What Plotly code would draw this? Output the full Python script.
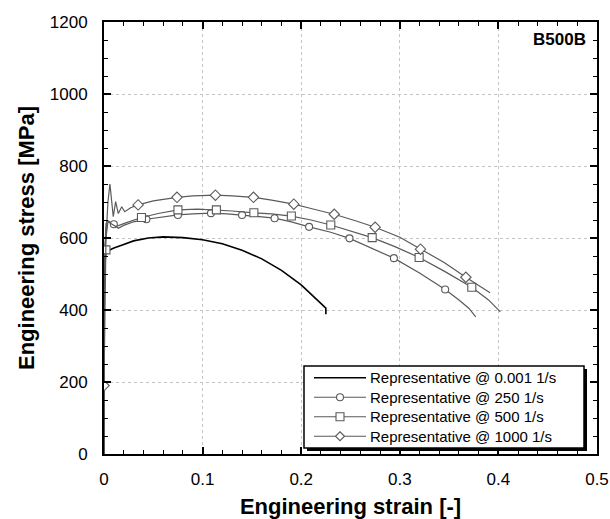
import plotly.graph_objects as go

# ---- data ----
x_001 = [0, 0, 0.002, 0.01, 0.02, 0.03, 0.045, 0.06, 0.08, 0.1, 0.12, 0.14, 0.16, 0.18, 0.2, 0.21, 0.22, 0.225, 0.225]
y_001 = [0, 500, 562, 572, 582, 592, 600, 603, 601, 595, 584, 566, 542, 510, 470, 445, 420, 405, 388]

x_250 = [0, 0, 0.002, 0.004, 0.008, 0.0145, 0.02, 0.03, 0.043, 0.06, 0.075, 0.09, 0.1085, 0.125, 0.14, 0.155, 0.173,
         0.19, 0.208, 0.23, 0.249, 0.27, 0.294, 0.32, 0.346, 0.36, 0.37, 0.377]
y_250 = [0, 500, 640, 648, 641, 627, 635, 645, 652, 658, 664, 667, 669, 667, 664, 660, 655,
         645, 631, 616, 599, 574, 544, 503, 457, 428, 405, 381]
mx_250 = [0.01, 0.043, 0.075, 0.1085, 0.14, 0.173, 0.208, 0.249, 0.294, 0.346]
my_250 = [638, 652, 664, 669, 664, 655, 631, 599, 544, 457]

x_500 = [0, 0, 0.002, 0.004, 0.007, 0.012, 0.02, 0.038, 0.055, 0.075, 0.095, 0.114, 0.13, 0.152, 0.17, 0.19,
         0.21, 0.23, 0.25, 0.272, 0.295, 0.3196, 0.345, 0.373, 0.39, 0.402]
y_500 = [0, 560, 600, 645, 640, 632, 640, 657, 668, 678, 680, 678, 675, 670, 667, 661,
         650, 636, 620, 601, 576, 546, 508, 463, 428, 395]
mx_500 = [0.002, 0.038, 0.075, 0.114, 0.152, 0.19, 0.23, 0.272, 0.3196, 0.373]
my_500 = [567, 657, 678, 678, 670, 661, 636, 601, 546, 463]

x_1000 = [0, 0, 0.002, 0.004, 0.006, 0.0094, 0.0118, 0.0145, 0.018, 0.021, 0.027, 0.0346, 0.05, 0.074, 0.09, 0.113,
          0.13, 0.1516, 0.17, 0.1925, 0.21, 0.2335, 0.255, 0.275, 0.3, 0.321, 0.345, 0.367, 0.38, 0.3915]
y_1000 = [0, 190, 600, 700, 750, 659, 701, 668, 687, 673, 684, 692, 703, 713, 717, 719,
          717, 713, 705, 694, 682, 666, 648, 630, 602, 569, 532, 491, 468, 448]
mx_1000 = [0, 0.0346, 0.074, 0.113, 0.1516, 0.1925, 0.2335, 0.275, 0.321, 0.367]
my_1000 = [190, 692, 713, 719, 713, 694, 666, 630, 569, 491]

names = ["Representative @ 0.001 1/s", "Representative @ 250 1/s",
         "Representative @ 500 1/s", "Representative @ 1000 1/s"]

x_ticks = [0, 0.1, 0.2, 0.3, 0.4, 0.5]
x_ticklabels = ["0", "0.1", "0.2", "0.3", "0.4", "0.5"]
y_ticks = [0, 200, 400, 600, 800, 1000, 1200]

FONT = "Liberation Sans, Arial, sans-serif"
GREY = "#5a5a5a"

# plot-area geometry (px) used for the hand-drawn legend
W, H = 610, 519
ML, MR, MT, MB = 104, 13, 22, 65
PW, PH = W - ML - MR, H - MT - MB


def px(X):
    return (X - ML) / PW


def py(Y):
    return (H - MB - Y) / PH


fig = go.Figure()

# 0.001 1/s
fig.add_trace(go.Scatter(x=x_001, y=y_001, mode="lines", name=names[0],
                         line=dict(color="black", width=1.6)))

series = [
    (x_250, y_250, mx_250, my_250, "circle", 7, names[1]),
    (x_500, y_500, mx_500, my_500, "square", 8, names[2]),
    (x_1000, y_1000, mx_1000, my_1000, "diamond", 8, names[3]),
]
for xs, ys, mxs, mys, sym, sz, nm in series:
    fig.add_trace(go.Scatter(x=xs, y=ys, mode="lines", name=nm,
                             line=dict(color=GREY, width=1.2), hoverinfo="skip"))
    fig.add_trace(go.Scatter(x=mxs, y=mys, mode="markers", name=nm,
                             marker=dict(symbol=sym, size=sz, color="white",
                                         line=dict(color=GREY, width=1.1))))

axis_common = dict(
    showline=True, linecolor="black", linewidth=2, mirror="ticks",
    ticks="inside", ticklen=7, tickwidth=1.5, tickcolor="black",
    showgrid=True, gridcolor="#c4c4c4", griddash="dot", gridwidth=1,
    zeroline=False, automargin=False, ticklabeloverflow="allow",
    tickfont=dict(family=FONT, size=17, color="black"),
)

fig.update_xaxes(range=[0, 0.5], tickvals=x_ticks, ticktext=x_ticklabels, ticklabelstandoff=9,
                 minor=dict(dtick=0.02, ticks="inside", ticklen=4, tickwidth=1.2,
                            tickcolor="black", showgrid=False),
                 title=dict(text="<b>Engineering strain [-]</b>",
                            font=dict(family=FONT, size=22, color="black"), standoff=10),
                 **axis_common)
fig.update_yaxes(range=[0, 1200], tickvals=y_ticks, ticklabelstandoff=11,
                 minor=dict(dtick=50, ticks="inside", ticklen=4, tickwidth=1.2,
                            tickcolor="black", showgrid=False),
                 title=dict(text="<b>Engineering stress [MPa]</b>",
                            font=dict(family=FONT, size=22, color="black"), standoff=9),
                 **axis_common)

# ---- hand-drawn legend box (with drop shadow) ----
LX0, LX1, LY0, LY1 = 304, 584, 366, 448
fig.add_shape(type="rect", xref="paper", yref="paper",
              x0=px(LX0 + 3), x1=px(LX1 + 3), y0=py(LY1 + 3), y1=py(LY0 + 3),
              fillcolor="black", line=dict(width=0), layer="above")
fig.add_shape(type="rect", xref="paper", yref="paper",
              x0=px(LX0), x1=px(LX1), y0=py(LY1), y1=py(LY0),
              fillcolor="white", line=dict(color="black", width=1.5), layer="above")

LEG_FS = 15
row_gap = LEG_FS * 1.3
row_mid = (LY0 + LY1) / 2
row_y = [row_mid + (i - 1.5) * row_gap for i in range(4)]
leg_style = [("black", 1.6, None), (GREY, 1.2, "circle"), (GREY, 1.2, "square"), (GREY, 1.2, "diamond")]
for Y, (col, lw, sym) in zip(row_y, leg_style):
    fig.add_shape(type="line", xref="paper", yref="paper",
                  x0=px(314), x1=px(366), y0=py(Y), y1=py(Y),
                  line=dict(color=col, width=lw), layer="above")
    common = dict(xref="paper", yref="paper", xsizemode="pixel", ysizemode="pixel",
                  xanchor=px(340), yanchor=py(Y), fillcolor="white",
                  line=dict(color=GREY, width=1.1), layer="above")
    if sym == "circle":
        fig.add_shape(type="circle", x0=-3.5, x1=3.5, y0=-3.5, y1=3.5, **common)
    elif sym == "square":
        fig.add_shape(type="rect", x0=-4, x1=4, y0=-4, y1=4, **common)
    elif sym == "diamond":
        fig.add_shape(type="path", path="M0,4.5 L4.5,0 L0,-4.5 L-4.5,0 Z", **common)

fig.add_annotation(text="<br>".join(names), xref="paper", yref="paper",
                   x=px(368), y=py(row_mid), xanchor="left", yanchor="middle",
                   align="left", showarrow=False,
                   font=dict(family=FONT, size=LEG_FS, color="black"))

fig.add_annotation(text="<b>B500B</b>", xref="paper", yref="paper",
                   x=px(588), y=py(40), xanchor="right", yanchor="middle", showarrow=False,
                   font=dict(family=FONT, size=17, color="black"))

fig.update_layout(
    width=W, height=H,
    margin=dict(l=ML, r=MR, t=MT, b=MB),
    paper_bgcolor="white", plot_bgcolor="white",
    font=dict(family=FONT, color="black"),
    showlegend=False,
)

fig.write_html("out.html")
